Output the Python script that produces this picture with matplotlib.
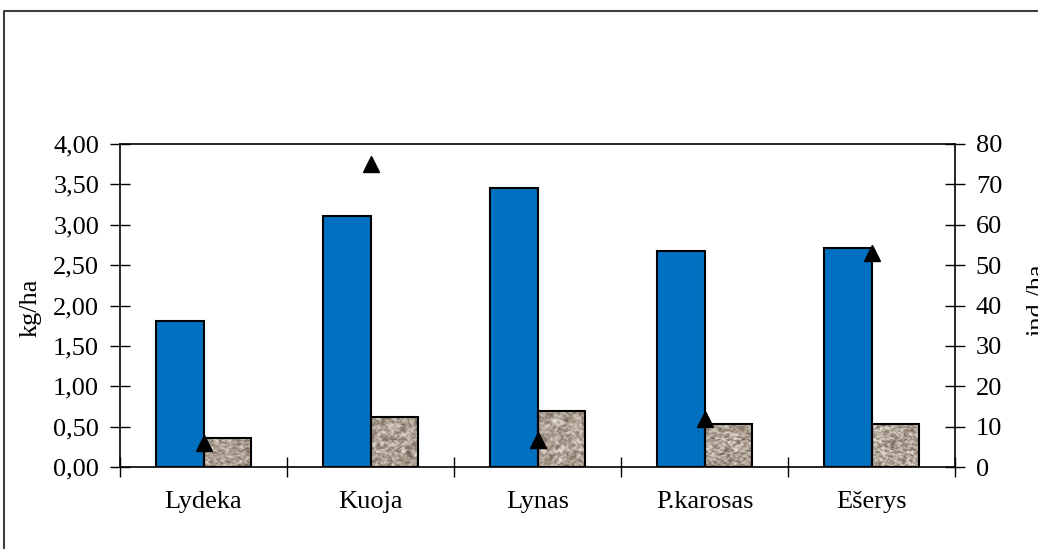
import numpy as np
import matplotlib.pyplot as plt
from matplotlib.lines import Line2D

plt.rcParams['font.family'] = ['Liberation Serif', 'DejaVu Serif']
plt.rcParams['font.size'] = 19

rusys = ["Lydeka", "Kuoja", "Lynas", "P.karosas", "Ešerys"]
biomase_1 = [1.81, 3.11, 3.46, 2.68, 2.71]     # kg/ha, mėlyni stulpeliai
biomase_2 = [0.36, 0.62, 0.69, 0.53, 0.53]     # kg/ha, tekstūruoti stulpeliai
gausumas = [6, 75, 6.8, 12, 53]                # ind./ha, trikampiai
kg_ticks = [0, 0.5, 1.0, 1.5, 2.0, 2.5, 3.0, 3.5, 4.0]
kg_labels = ["0,00", "0,50", "1,00", "1,50", "2,00", "2,50", "3,00", "3,50", "4,00"]
ind_ticks = [0, 10, 20, 30, 40, 50, 60, 70, 80]

W, H = 1038, 549
fig = plt.figure(figsize=(W / 100, H / 100), dpi=100)
ax = fig.add_axes([120 / W, 1 - 467 / H, 835 / W, 323 / H])

x = np.arange(len(rusys))
w = 0.287

ax.bar(x - w / 2, biomase_1, w, color='#0070C0', edgecolor='black', linewidth=1.5, zorder=3)

# granito tekstūra antriems stulpeliams
rng = np.random.RandomState(7)
base = np.array([172, 158, 144]) / 255
lo = np.array([105, 92, 80]) / 255
hi = np.array([238, 232, 224]) / 255
for xi, h in zip(x, biomase_2):
    n = rng.rand(40, 30)
    sm = n.copy()
    for dy in (-1, 0, 1):
        for dx in (-1, 0, 1):
            sm += np.roll(np.roll(n, dy, 0), dx, 1)
    sm = 0.6 * sm / 10 + 0.4 * n
    t = ((sm - sm.min()) / (sm.max() - sm.min()))[..., None]
    img = np.where(t < 0.5,
                   lo + (base - lo) * (t / 0.5),
                   base + (hi - base) * ((t - 0.5) / 0.5))
    ax.imshow(img, extent=(xi, xi + w, 0, h), aspect='auto', zorder=2,
              interpolation='bilinear')
ax.bar(x + w / 2, biomase_2, w, facecolor='none', edgecolor='black', linewidth=1.5, zorder=3)

ax.set_xlim(-0.5, len(rusys) - 0.5)
ax.set_ylim(0, 4)
ax.set_yticks(kg_ticks)
ax.set_yticklabels(kg_labels)
ax.set_xticks(x)
ax.set_xticklabels(rusys)
ax.set_xticks(np.arange(-0.5, len(rusys), 1), minor=True)
ax.tick_params(axis='x', which='major', length=0, pad=17)
ax.tick_params(axis='x', which='minor', direction='inout', length=14, width=1)
ax.tick_params(axis='y', direction='inout', length=14, width=1, pad=8)
for s in ['left', 'bottom', 'top']:
    ax.spines[s].set_linewidth(1.2)
ax.spines['right'].set_visible(False)

ax2 = ax.twinx()
ax2.plot(x, gausumas, linestyle='none', marker='^', markersize=12, color='black', zorder=5)
ax2.set_ylim(0, 80)
ax2.set_yticks(ind_ticks)
ax2.tick_params(axis='y', direction='inout', length=14, width=1, pad=8)
ax2.spines['right'].set_linewidth(1.2)
for s in ['left', 'bottom', 'top']:
    ax2.spines[s].set_visible(False)

fig.text(20 / W, 1 - 308 / H, "kg/ha", rotation=90, ha='left', va='center')
fig.text(1026 / W, 1 - 300 / H, "ind./ha", rotation=90, ha='left', va='center')

# išorinis rėmelis
fig.add_artist(Line2D([4 / W, 4 / W, 1], [0, 1 - 11 / H, 1 - 11 / H],
                      transform=fig.transFigure, color='#404040', linewidth=1.5))

fig.savefig("out.png", dpi=100)
